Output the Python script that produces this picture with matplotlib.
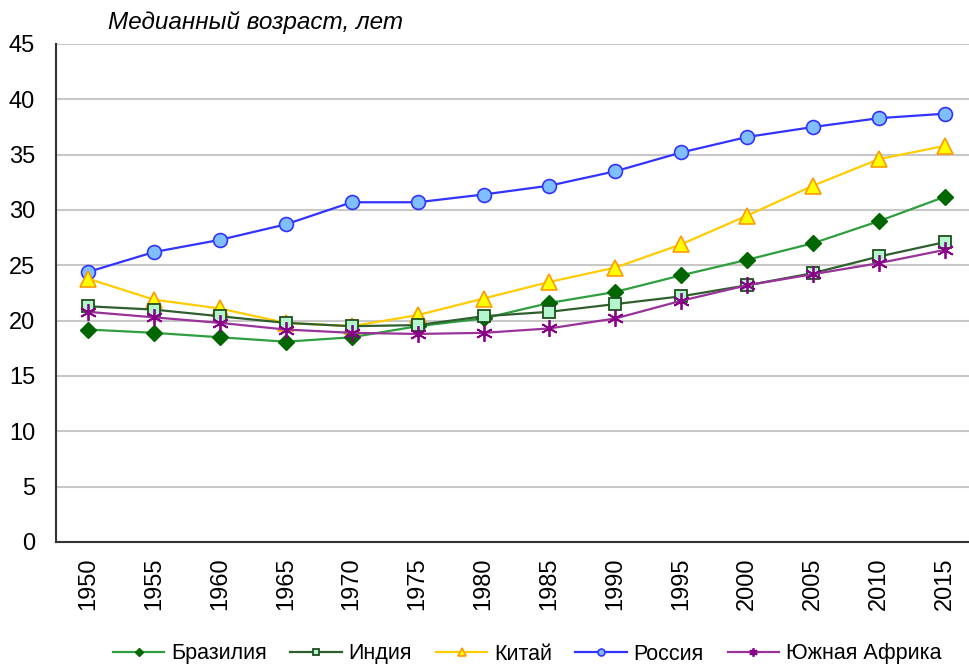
import numpy as np
import matplotlib
matplotlib.use('Agg')
import matplotlib.pyplot as plt

plt.rcParams['font.family'] = ['Liberation Sans', 'DejaVu Sans']

years = ['1950', '1955', '1960', '1965', '1970', '1975', '1980',
         '1985', '1990', '1995', '2000', '2005', '2010', '2015']
brazil = [19.2, 18.9, 18.5, 18.1, 18.5, 19.5, 20.2, 21.6, 22.6, 24.1, 25.5, 27.0, 29.0, 31.2]
india = [21.3, 21.0, 20.4, 19.8, 19.5, 19.6, 20.4, 20.8, 21.5, 22.2, 23.2, 24.3, 25.8, 27.1]
china = [23.8, 21.9, 21.1, 19.8, 19.5, 20.5, 22.0, 23.5, 24.8, 26.9, 29.5, 32.2, 34.6, 35.8]
russia = [24.4, 26.2, 27.3, 28.7, 30.7, 30.7, 31.4, 32.2, 33.5, 35.2, 36.6, 37.5, 38.3, 38.7]
safrica = [20.8, 20.3, 19.8, 19.2, 18.9, 18.8, 18.9, 19.3, 20.2, 21.8, 23.2, 24.2, 25.2, 26.4]

fig = plt.figure(figsize=(9.69, 6.64), dpi=100)
W, H = 969, 664
ax = fig.add_axes([56 / W, (H - 542) / H, (W - 56) / W, (542 - 44) / H])

x = np.arange(len(years))

# series drawn in back-to-front order
ax.plot(x, russia, color='#3333ff', lw=1.6, marker='o', ms=10,
        mfc='#7fbfff', mec='#3333ff', mew=1.2, label='Россия', zorder=3)
ax.plot(x, china, color='#ffcc00', lw=1.6, marker='^', ms=11,
        mfc='#ffff00', mec='#ff9900', mew=1.2, label='Китай', zorder=4)
ax.plot(x, brazil, color='#2e9e3e', lw=1.6, marker='D', ms=8,
        mfc='#006600', mec='#006600', label='Бразилия', zorder=5)
ax.plot(x, india, color='#2f5f2f', lw=1.6, marker='s', ms=9,
        mfc='#b3f5cc', mec='#1f4f1f', mew=1.3, label='Индия', zorder=6)
ax.plot(x, safrica, color='#993399', lw=1.6, marker=(6, 2, 0), ms=12,
        mec='#880088', mew=1.3, label='Южная Африка', zorder=7)

ax.set_ylim(0, 45)
ax.set_yticks(range(0, 46, 5))
ax.set_xlim(-32 / 65.9, 13 + 24 / 65.9)
ax.set_xticks(x)
ax.set_xticklabels(years, rotation=90)
ax.tick_params(axis='both', length=0, labelsize=17)
ax.tick_params(axis='y', pad=15)
ax.tick_params(axis='x', pad=11)

ax.grid(axis='y', color='#c8c8c8', lw=1.5)
ax.set_axisbelow(True)
for s in ['top', 'right']:
    ax.spines[s].set_visible(False)
ax.spines['left'].set_color('#333333')
ax.spines['bottom'].set_color('#333333')
ax.spines['left'].set_linewidth(1.5)
ax.spines['bottom'].set_linewidth(1.5)

fig.text(108 / W, 1 - 22 / H, 'Медианный возраст, лет', fontsize=17.5,
         style='italic', va='center', ha='left')

handles, labels = ax.get_legend_handles_labels()
order = ['Бразилия', 'Индия', 'Китай', 'Россия', 'Южная Африка']
hmap = dict(zip(labels, handles))
fig.legend([hmap[k] for k in order], order, loc='center',
           bbox_to_anchor=(527 / W, 1 - 654 / H), ncol=5, frameon=False,
           fontsize=15.5, markerscale=0.5, handlelength=2.4, handletextpad=0.3,
           columnspacing=1.1, borderpad=0)

fig.savefig('out.png', dpi=100)
